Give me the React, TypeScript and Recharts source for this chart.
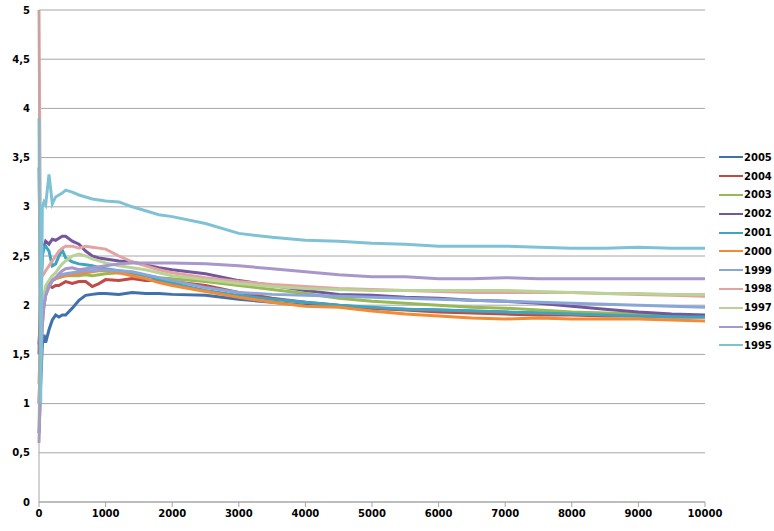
import { LineChart, Line, XAxis, YAxis, CartesianGrid, Legend } from 'recharts'

const xs = [0, 25, 50, 75, 100, 150, 200, 250, 300, 350, 400, 500, 600, 700, 800, 900, 1000, 1200, 1400, 1600, 1800, 2000, 2500, 3000, 3500, 4000, 4500, 5000, 5500, 6000, 6500, 7000, 7500, 8000, 8500, 9000, 9500, 10000]

const s2005 = [0.7, 1.2, 1.6, 1.7, 1.62, 1.75, 1.85, 1.9, 1.88, 1.9, 1.9, 1.97, 2.05, 2.1, 2.11, 2.12, 2.12, 2.11, 2.13, 2.12, 2.12, 2.11, 2.1, 2.06, 2.03, 2.0, 1.99, 1.97, 1.96, 1.95, 1.94, 1.93, 1.92, 1.91, 1.91, 1.9, 1.9, 1.89]
const s2004 = [1.6, 1.9, 2.05, 2.1, 2.15, 2.2, 2.18, 2.2, 2.2, 2.22, 2.24, 2.22, 2.24, 2.24, 2.19, 2.22, 2.26, 2.25, 2.27, 2.25, 2.25, 2.24, 2.2, 2.13, 2.07, 2.03, 2.0, 1.97, 1.95, 1.93, 1.92, 1.91, 1.9, 1.9, 1.89, 1.89, 1.88, 1.88]
const s2003 = [1.2, 1.7, 2.0, 2.1, 2.15, 2.2, 2.25, 2.27, 2.28, 2.29, 2.3, 2.3, 2.3, 2.31, 2.3, 2.31, 2.32, 2.33, 2.32, 2.3, 2.28, 2.27, 2.24, 2.2, 2.16, 2.12, 2.07, 2.04, 2.02, 2.0, 1.98, 1.97, 1.95, 1.93, 1.92, 1.91, 1.9, 1.89]
const s2002 = [1.5, 2.2, 2.55, 2.6, 2.65, 2.62, 2.67, 2.66, 2.68, 2.7, 2.7, 2.65, 2.62, 2.55, 2.5, 2.48, 2.47, 2.45, 2.44, 2.41, 2.38, 2.36, 2.32, 2.25, 2.2, 2.15, 2.11, 2.1, 2.08, 2.07, 2.05, 2.04, 2.02, 1.99, 1.96, 1.93, 1.91, 1.9]
const s2001 = [3.4, 2.0, 2.5, 2.58, 2.6, 2.55, 2.4, 2.42, 2.5, 2.56, 2.48, 2.44, 2.42, 2.41, 2.4, 2.38, 2.37, 2.35, 2.33, 2.3, 2.26, 2.22, 2.15, 2.1, 2.06, 2.03, 2.0, 1.98, 1.96, 1.95, 1.94, 1.93, 1.92, 1.91, 1.9, 1.89, 1.88, 1.88]
const s2000 = [1.0, 1.5, 1.8, 2.0, 2.1, 2.2, 2.25, 2.27, 2.28, 2.29, 2.3, 2.31, 2.32, 2.33, 2.34, 2.35, 2.35, 2.33, 2.3, 2.27, 2.23, 2.2, 2.14, 2.08, 2.03, 1.99, 1.98, 1.94, 1.91, 1.89, 1.87, 1.86, 1.87, 1.86, 1.86, 1.86, 1.85, 1.84]
const s1999 = [1.0, 1.6, 1.9, 2.0, 2.1, 2.18, 2.25, 2.28, 2.3, 2.31, 2.32, 2.33, 2.34, 2.35, 2.35, 2.36, 2.36, 2.35, 2.34, 2.31, 2.28, 2.25, 2.18, 2.13, 2.11, 2.1, 2.09, 2.08, 2.07, 2.06, 2.05, 2.04, 2.03, 2.02, 2.01, 2.0, 1.99, 1.98]
const s1998 = [5.0, 2.3, 2.3, 2.32, 2.35, 2.4, 2.45, 2.5, 2.55, 2.58, 2.6, 2.6, 2.58, 2.6, 2.59, 2.58, 2.57, 2.5, 2.44, 2.4, 2.36, 2.33, 2.28, 2.24, 2.21, 2.19, 2.17, 2.16, 2.15, 2.14, 2.13, 2.13, 2.13, 2.13, 2.12, 2.11, 2.1, 2.09]
const s1997 = [0.8, 1.5, 2.0, 2.1, 2.2, 2.25, 2.3, 2.33, 2.38, 2.42, 2.45, 2.5, 2.52, 2.5, 2.47, 2.45, 2.43, 2.4, 2.38, 2.36, 2.33, 2.3, 2.26, 2.22, 2.19, 2.17, 2.16, 2.15, 2.15, 2.15, 2.15, 2.15, 2.14, 2.13, 2.12, 2.12, 2.11, 2.11]
const s1996 = [0.6, 1.3, 1.8, 2.0, 2.1, 2.2, 2.25, 2.28, 2.32, 2.35, 2.37, 2.38, 2.36, 2.37, 2.38, 2.39, 2.4, 2.42, 2.43, 2.43, 2.43, 2.43, 2.42, 2.4, 2.37, 2.34, 2.31, 2.29, 2.29, 2.27, 2.27, 2.28, 2.27, 2.27, 2.27, 2.27, 2.27, 2.27]
const s1995 = [3.9, 1.0, 3.0, 3.05, 3.02, 3.33, 3.03, 3.1, 3.12, 3.14, 3.17, 3.15, 3.12, 3.1, 3.08, 3.07, 3.06, 3.05, 3.0, 2.96, 2.92, 2.9, 2.83, 2.73, 2.69, 2.66, 2.65, 2.63, 2.62, 2.6, 2.6, 2.6, 2.59, 2.58, 2.58, 2.59, 2.58, 2.58]

const xTicks = [0, 1000, 2000, 3000, 4000, 5000, 6000, 7000, 8000, 9000, 10000]
const yTicks = [0, 0.5, 1, 1.5, 2, 2.5, 3, 3.5, 4, 4.5, 5]

const series = [
  { key: '2005', values: s2005, color: '#4170AE' },
  { key: '2004', values: s2004, color: '#BE4B48' },
  { key: '2003', values: s2003, color: '#98B954' },
  { key: '2002', values: s2002, color: '#73569E' },
  { key: '2001', values: s2001, color: '#3EA5C0' },
  { key: '2000', values: s2000, color: '#F38B35' },
  { key: '1999', values: s1999, color: '#88A6D8' },
  { key: '1998', values: s1998, color: '#E3A3A1' },
  { key: '1997', values: s1997, color: '#B9D295' },
  { key: '1996', values: s1996, color: '#A797CB' },
  { key: '1995', values: s1995, color: '#80C2D5' },
]

const data = xs.map((x, i) => {
  const row: Record<string, number> = { x }
  series.forEach((s) => {
    row[s.key] = s.values[i]
  })
  return row
})

const font = { fontFamily: 'DejaVu Sans', fontSize: 10, fontWeight: 'bold', fill: '#000' }

function LegendBox() {
  return (
    <div style={{ fontFamily: 'DejaVu Sans', fontSize: 10, fontWeight: 'bold', width: 55 }}>
      {series.map((s) => (
        <div key={s.key} style={{ display: 'flex', alignItems: 'center', height: 18.8 }}>
          <div style={{ width: 24, height: 2, background: s.color }} />
          <span style={{ marginLeft: 1 }}>{s.key}</span>
        </div>
      ))}
    </div>
  )
}

export default function App() {
  return (
    <div style={{ position: 'absolute', left: 0, top: 0, background: '#fff' }}>
      <LineChart width={774} height={531} data={data} margin={{ top: 10, right: 14, bottom: 0, left: 0 }}>
        <CartesianGrid vertical={false} stroke="#A6A6A6" />
        <XAxis
          dataKey="x"
          type="number"
          domain={[0, 10000]}
          ticks={xTicks}
          height={29}
          stroke="#A6A6A6"
          tickSize={5}
          tickMargin={3}
          tick={font}
        />
        <YAxis
          type="number"
          domain={[0, 5]}
          ticks={yTicks}
          width={39}
          stroke="#A6A6A6"
          tickLine={false}
          tickSize={0}
          tickMargin={9}
          tick={font}
          tickFormatter={(v: number) => String(v).replace('.', ',')}
        />
        <Legend
          layout="vertical"
          verticalAlign="top"
          align="right"
          content={() => <LegendBox />}
          wrapperStyle={{ position: 'absolute', left: 719, top: 148, width: 55 }}
        />
        {series.map((s) => (
          <Line
            key={s.key}
            dataKey={s.key}
            type="linear"
            stroke={s.color}
            strokeWidth={3}
            dot={false}
            isAnimationActive={false}
          />
        ))}
      </LineChart>
    </div>
  )
}
